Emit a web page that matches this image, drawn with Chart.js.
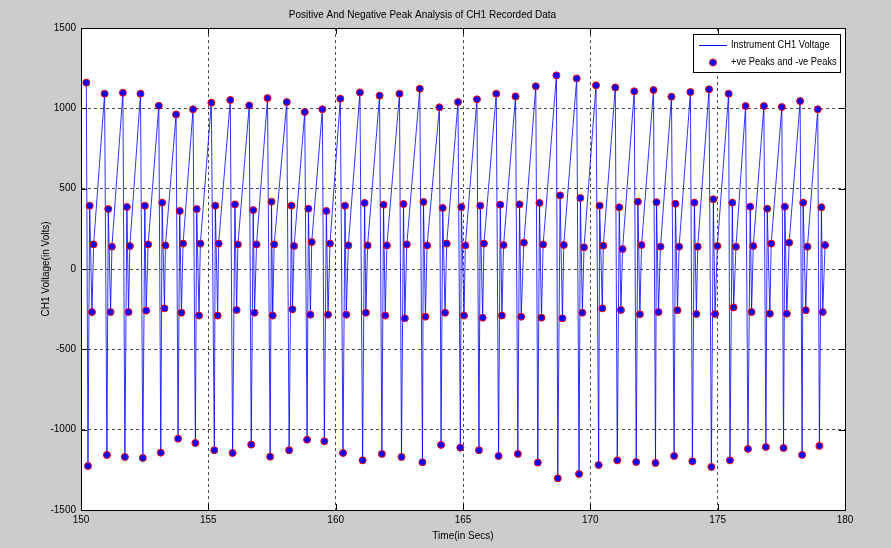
<!DOCTYPE html>
<html><head><meta charset="utf-8">
<script src="https://cdn.jsdelivr.net/npm/chart.js@4.4.1/dist/chart.umd.min.js"></script>
<style>html,body{margin:0;padding:0;background:#cccccc;} #wrap{width:891px;height:548px;position:relative;}</style>
</head><body><div id="wrap"><canvas id="c" width="891" height="548"></canvas></div>
<script>
const chartTitle = 'Positive And Negative Peak Analysis of CH1 Recorded Data';
const xTitle = 'Time(in Secs)';
const yTitle = 'CH1 Voltage(in Volts)';
const lineLabel = 'Instrument CH1 Voltage';
const peakLabel = '+ve Peaks and -ve Peaks';
const xTicks = [150,155,160,165,170,175,180];
const yTicks = [-1500,-1000,-500,0,500,1000,1500];

// positive (top) peaks
const topT = [150.209,150.927,151.645,152.337,153.055,153.734,154.400,155.118,155.862,156.606,157.324,158.081,158.786,159.478,160.183,160.953,161.724,162.507,163.303,164.073,164.804,165.548,166.306,167.063,167.859,168.669,169.465,170.222,170.980,171.724,172.480,173.186,173.930,174.661,175.431,176.097,176.815,177.520,178.238,178.930];
const topV = [1160,1091,1097,1091,1016,962,994,1035,1052,1018,1064,1039,977,994,1060,1099,1079,1091,1122,1006,1039,1056,1091,1074,1137,1205,1186,1143,1130,1106,1114,1072,1101,1118,1091,1014,1014,1008,1045,994];
// negative (bottom) peaks
const botT = [150.274,151.018,151.723,152.428,153.133,153.812,154.491,155.235,155.953,156.684,157.428,158.173,158.878,159.556,160.288,161.058,161.815,162.585,163.408,164.139,164.896,165.627,166.397,167.154,167.938,168.721,169.557,170.327,171.058,171.802,172.559,173.290,174.008,174.753,175.483,176.189,176.893,177.586,178.316,178.995];
const botV = [-1226,-1157,-1170,-1176,-1143,-1056,-1083,-1128,-1145,-1093,-1168,-1128,-1062,-1072,-1145,-1191,-1151,-1170,-1203,-1095,-1112,-1128,-1164,-1151,-1205,-1303,-1276,-1220,-1191,-1201,-1207,-1164,-1197,-1232,-1191,-1120,-1108,-1114,-1157,-1101];
// secondary positive peaks (~400)
const hiT = [150.340,151.071,151.802,152.507,153.186,153.877,154.543,155.274,156.045,156.763,157.481,158.264,158.930,159.635,160.366,161.136,161.880,162.664,163.447,164.204,164.935,165.679,166.463,167.220,168.003,168.813,169.609,170.366,171.136,171.868,172.598,173.343,174.086,174.831,175.575,176.280,176.946,177.638,178.356,179.074];
const hiV = [394,373,386,394,413,361,373,394,402,367,419,394,375,361,394,411,400,404,417,380,386,394,400,402,411,458,442,394,384,419,416,406,413,434,413,388,375,388,413,384];
// secondary negative peaks (~-270)
const loT = [150.431,151.162,151.867,152.559,153.277,153.943,154.635,155.366,156.110,156.815,157.526,158.303,159.008,159.700,160.418,161.188,161.945,162.716,163.525,164.295,165.040,165.771,166.528,167.285,168.081,168.904,169.687,170.470,171.201,171.946,172.677,173.421,174.165,174.896,175.627,176.332,177.050,177.716,178.460,179.126];
const loV = [-268,-268,-268,-259,-245,-272,-290,-290,-255,-272,-290,-251,-284,-284,-284,-272,-290,-307,-297,-272,-290,-303,-290,-297,-303,-307,-272,-245,-255,-282,-268,-257,-280,-280,-239,-268,-278,-278,-257,-268];
// small positive peaks (~150)
const midT = [150.496,151.214,151.919,152.637,153.316,154.008,154.687,155.405,156.162,156.893,157.585,158.368,159.060,159.778,160.496,161.254,162.011,162.794,163.590,164.361,165.092,165.823,166.593,167.389,168.147,168.956,169.752,170.510,171.266,172.011,172.755,173.486,174.217,174.987,175.719,176.398,177.102,177.808,178.526,179.217];
const midV = [153,139,143,153,147,158,158,158,153,153,153,143,168,158,147,147,147,153,147,158,147,158,149,164,153,149,135,145,124,149,139,139,139,143,139,143,158,164,139,149];

const pts = [];
[[topT,topV],[botT,botV],[hiT,hiV],[loT,loV],[midT,midV]].forEach(([t,v]) => t.forEach((tt,i) => pts.push({x:tt, y:v[i]})));
pts.sort((a,b) => a.x - b.x);

const FONT = "'Liberation Sans', Arial, Helvetica, sans-serif";
Chart.defaults.font.family = FONT;
Chart.defaults.font.size = 10;
Chart.defaults.color = '#000';

const LINE_COLOR = 'rgba(0,0,255,0.8)';

const frame = {
  id: 'frame',
  beforeDraw(chart) {
    const {ctx, chartArea: a} = chart;
    ctx.save();
    ctx.fillStyle = '#cccccc';
    ctx.fillRect(0, 0, chart.width, chart.height);
    ctx.fillStyle = '#ffffff';
    ctx.fillRect(a.left, a.top, a.right - a.left, a.bottom - a.top);
    ctx.restore();
  },
  afterDraw(chart) {
    const {ctx, chartArea: a, scales: {x, y}} = chart;
    ctx.save();
    ctx.strokeStyle = '#000';
    ctx.lineWidth = 1;
    ctx.setLineDash([]);
    ctx.beginPath();
    xTicks.forEach(v => {
      const px = Math.round(x.getPixelForValue(v)) + 0.5;
      ctx.moveTo(px, a.bottom); ctx.lineTo(px, a.bottom - 6);
      ctx.moveTo(px, a.top); ctx.lineTo(px, a.top + 6);
    });
    yTicks.forEach(v => {
      const py = Math.round(y.getPixelForValue(v)) + 0.5;
      ctx.moveTo(a.left, py); ctx.lineTo(a.left + 6, py);
      ctx.moveTo(a.right, py); ctx.lineTo(a.right - 6, py);
    });
    ctx.stroke();
    ctx.strokeRect(Math.round(a.left) + 0.5, Math.round(a.top) + 0.5, Math.round(a.right - a.left), Math.round(a.bottom - a.top));

    // legend box
    const lx = 693.5, ly = 34.5, lw = 147, lh = 38;
    ctx.fillStyle = '#fff';
    ctx.fillRect(lx, ly, lw, lh);
    ctx.strokeStyle = '#000';
    ctx.strokeRect(lx, ly, lw, lh);
    ctx.strokeStyle = '#0000ff';
    ctx.beginPath(); ctx.moveTo(699, 45.5); ctx.lineTo(727, 45.5); ctx.stroke();
    ctx.beginPath(); ctx.arc(713, 62.5, 3.5, 0, Math.PI * 2);
    ctx.fillStyle = '#0000ff'; ctx.fill();
    ctx.strokeStyle = '#ff0000'; ctx.stroke();
    ctx.fillStyle = '#000';
    ctx.font = '10px ' + FONT;
    ctx.textBaseline = 'middle';
    ctx.textAlign = 'left';
    ctx.save();
    ctx.translate(731, 0);
    ctx.scale(0.93, 1);
    ctx.fillText(chart.data.datasets[0].label, 0, 45.5);
    ctx.fillText(chart.data.datasets[1].label, 0, 62.5);
    ctx.restore();
    ctx.restore();
  }
};

const gridColor = c => (c.tick && (c.tick.value === c.scale.min || c.tick.value === c.scale.max)) ? 'rgba(0,0,0,0)' : 'rgba(0,0,0,0.7)';

new Chart(document.getElementById('c'), {
  type: 'scatter',
  data: {
    datasets: [
      { label: lineLabel, data: pts, showLine: true, borderColor: LINE_COLOR, borderWidth: 1, pointRadius: 0, pointHoverRadius: 0, tension: 0, order: 2 },
      { label: peakLabel, data: pts, showLine: false, pointRadius: 3.5, pointBackgroundColor: '#0000ff', pointBorderColor: '#ff0000', pointBorderWidth: 1, order: 1 }
    ]
  },
  options: {
    responsive: false,
    animation: false,
    devicePixelRatio: 1,
    layout: { padding: { left: 0, right: 46, top: 0, bottom: 0 } },
    plugins: {
      legend: { display: false },
      tooltip: { enabled: false },
      title: { display: true, text: chartTitle, color: '#000', font: { size: 10, weight: 'normal' }, padding: { top: 9, bottom: 7 } }
    },
    scales: {
      x: {
        type: 'linear', min: 150, max: 180,
        afterBuildTicks: s => { s.ticks = xTicks.map(v => ({ value: v })); },
        afterFit: s => { s.height = 38; },
        ticks: { padding: 4, color: '#000', font: { size: 10 }, callback: v => String(v) },
        grid: { color: gridColor, lineWidth: 1, drawTicks: false },
        border: { display: true, color: '#000', dash: [3, 3] },
        title: { display: true, text: xTitle, color: '#000', font: { size: 10 }, padding: { top: 0, bottom: 6 } }
      },
      y: {
        type: 'linear', min: -1500, max: 1500,
        afterBuildTicks: s => { s.ticks = yTicks.map(v => ({ value: v })); },
        afterFit: s => { s.width = 81; },
        ticks: { padding: 5, color: '#000', font: { size: 10 }, callback: v => String(v) },
        grid: { color: gridColor, lineWidth: 1, drawTicks: false },
        border: { display: true, color: '#000', dash: [3, 3] },
        title: { display: true, text: yTitle, color: '#000', font: { size: 10 }, padding: { top: 40, bottom: 0 } }
      }
    }
  },
  plugins: [frame]
});
</script></body></html>
